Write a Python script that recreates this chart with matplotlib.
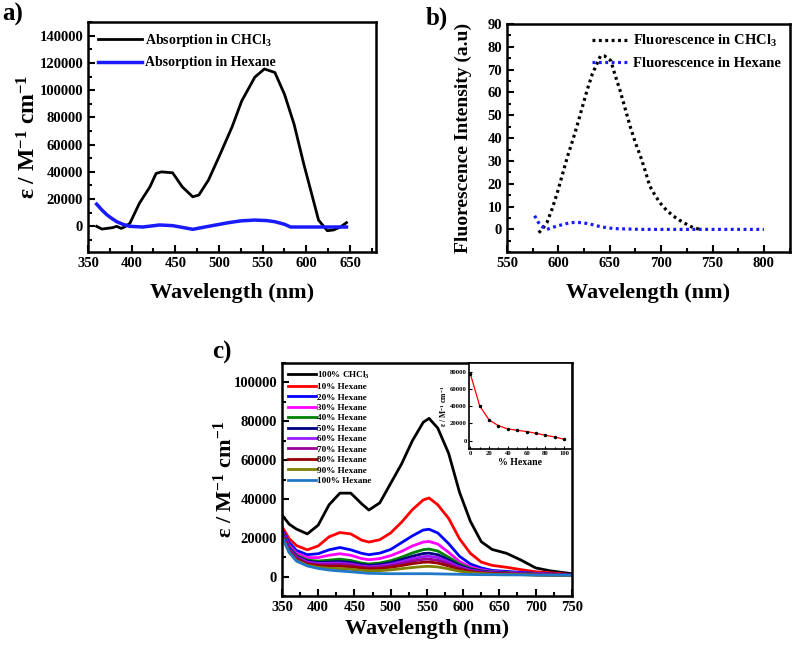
import numpy as np
import matplotlib
matplotlib.use('Agg')
import matplotlib.pyplot as plt
from matplotlib.ticker import MultipleLocator

plt.rcParams['font.family'] = ['Liberation Serif', 'DejaVu Serif']
plt.rcParams['font.weight'] = 'bold'
plt.rcParams['axes.labelweight'] = 'bold'
plt.rcParams['mathtext.fontset'] = 'custom'
plt.rcParams['mathtext.rm'] = 'Liberation Serif:bold'
plt.rcParams['mathtext.bf'] = 'Liberation Serif:bold'
plt.rcParams['mathtext.it'] = 'Liberation Serif:bold'
plt.rcParams['mathtext.default'] = 'bf'

eps_label = r'ε / M$^{-1}$ cm$^{-1}$'

# ---- panel a: absorption ----
wl_a_chcl3 = [360, 366, 372, 378, 383, 388, 392, 398, 409, 421, 428, 434, 447, 458, 470, 477,
              488, 500, 515, 526, 541, 552, 564, 575, 586, 597, 607, 614, 624, 631, 639, 646]
abs_chcl3 = [0, -2000, -1500, -1000, 0, -1500, -500, 2200, 17000, 29000, 38800, 40000, 39300,
             29000, 21700, 23000, 34000, 51000, 73000, 92000, 109500, 115600, 113000, 97000,
             75000, 46000, 21700, 4600, -3200, -2700, -500, 2700]
wl_a_hex = [360, 366, 372, 378, 383, 390, 398, 413, 432, 447, 460, 470, 488, 511, 525, 541,
            555, 564, 575, 582, 600, 620, 646]
abs_hex = [16300, 12000, 8300, 5500, 3400, 1500, 0, -500, 1000, 500, -1000, -2200, 0, 2700,
           4000, 4600, 4200, 3400, 1500, -500, -500, -500, -500]

# ---- panel b: fluorescence ----
wl_b_chcl3 = [581, 585, 589, 594, 599, 604, 609, 614, 618, 623, 628, 633, 638, 641, 645, 651,
              655, 660, 665, 670, 675, 680, 685, 689, 694, 699, 705, 712, 718, 725, 731, 738]
fl_chcl3 = [-1.5, 0.5, 3, 9, 16, 24, 32, 39, 45, 53, 61, 68, 73, 76, 76, 74, 68, 61, 53,
            45, 38, 32, 25, 19, 15, 11.6, 8.5, 5.8, 4, 2.2, 0.8, 0]
wl_b_hex = [577, 580, 583, 589, 594, 599, 606, 612, 618, 623, 632, 641, 649, 657, 680, 720,
            760, 800]
fl_hex = [6, 3.5, 1.5, 0, 0.8, 1.5, 2.3, 3, 3, 3, 2.2, 1.2, 0.6, 0.3, 0, 0, 0, 0]

# ---- panel c: solvent series ----
wl_c = [350, 360, 370, 385, 400, 415, 430, 445, 460, 470, 485, 500, 515, 530, 545, 553, 565,
        580, 595, 610, 625, 640, 660, 680, 700, 720, 750]
series_labels = [r'100% CHCl$_3$', '10% Hexane', '20% Hexane', '30% Hexane', '40% Hexane',
                 '50% Hexane', '60% Hexane', '70% Hexane', '80% Hexane', '90% Hexane',
                 '100% Hexane']
series_colors = ['black', '#ff0000', '#0000ff', '#ff00ff', '#008000', '#000080', '#9a1aff',
                 '#990099', '#990000', '#808000', '#1f78c8']
series_values = [
    [31800, 27000, 24500, 22000, 26500, 37000, 43000, 43000, 37500, 34300, 38000, 48000, 58000,
     70000, 79500, 81500, 76500, 63500, 43500, 28500, 18000, 14000, 12000, 8500, 4500, 3000, 1500],
    [25800, 19500, 16000, 13800, 15800, 20500, 22700, 22000, 18800, 17800, 19000, 22500, 28000,
     34500, 39500, 40500, 37000, 30000, 19500, 12000, 7500, 5800, 4800, 3600, 2500, 2000, 1000],
    [24100, 17500, 13500, 11300, 11800, 13800, 15000, 13800, 12000, 11300, 12100, 14000, 17500,
     21000, 24000, 24400, 22500, 17000, 10500, 6500, 4500, 3200, 2700, 2200, 1700, 1400, 1000],
    [23500, 16000, 12000, 9800, 9800, 11000, 11800, 11000, 9300, 8700, 9300, 10800, 13000,
     15800, 17800, 18100, 16800, 12500, 7800, 5000, 3500, 2700, 2200, 1800, 1500, 1200, 900],
    [23000, 15000, 11000, 8500, 8000, 8500, 9000, 8300, 7000, 6500, 7000, 8200, 10000,
     12200, 13900, 14200, 13200, 10000, 6500, 4200, 3000, 2400, 2000, 1600, 1300, 1100, 900],
    [22500, 14500, 10500, 8000, 7300, 7500, 7800, 7300, 6200, 5800, 6200, 7200, 8800,
     10500, 11900, 12100, 11300, 8700, 5700, 3800, 2800, 2200, 1800, 1500, 1200, 1000, 800],
    [22000, 14000, 10000, 7500, 6800, 6900, 7000, 6500, 5500, 5100, 5500, 6400, 7700,
     9200, 10300, 10500, 9800, 7600, 5000, 3400, 2500, 2000, 1700, 1400, 1100, 900, 800],
    [21500, 13500, 9500, 7000, 6200, 6200, 6300, 5900, 5000, 4600, 4900, 5600, 6700,
     8000, 8900, 9000, 8400, 6600, 4400, 3000, 2200, 1800, 1500, 1300, 1000, 900, 700],
    [21000, 13000, 9000, 6500, 5600, 5400, 5400, 5100, 4400, 4000, 4200, 4800, 5700,
     6700, 7400, 7500, 7000, 5500, 3700, 2600, 1900, 1600, 1400, 1200, 900, 800, 700],
    [20500, 12500, 8300, 5800, 4800, 4300, 4100, 3800, 3200, 3000, 3100, 3500, 4100,
     4700, 5200, 5300, 5000, 4000, 2800, 2000, 1600, 1300, 1100, 1000, 800, 700, 600],
    [20700, 12500, 8000, 5500, 4200, 3400, 2900, 2500, 2000, 1700, 1600, 1500, 1500,
     1500, 1500, 1500, 1400, 1300, 1200, 1100, 1000, 1000, 900, 900, 800, 800, 700],
]
hexane_pct = [0, 10, 20, 30, 40, 50, 60, 70, 80, 90, 100]
inset_eps = [78000, 40500, 24000, 17300, 13500, 12000, 10500, 8500, 6100, 4200, 1500]


def style_axes(ax, xmajor, xminor, ymajor, yminor, size=10.5):
    for s in ax.spines.values():
        s.set_linewidth(1.8)
    ax.xaxis.set_major_locator(MultipleLocator(xmajor))
    ax.xaxis.set_minor_locator(MultipleLocator(xminor))
    ax.yaxis.set_major_locator(MultipleLocator(ymajor))
    ax.yaxis.set_minor_locator(MultipleLocator(yminor))
    ax.tick_params(which='both', direction='in', width=1.5, labelsize=size)
    ax.tick_params(which='major', length=5)
    ax.tick_params(which='minor', length=3)


fig = plt.figure(figsize=(7.92, 6.5), dpi=100)

# panel a
ax1 = fig.add_axes([0.111, 0.612, 0.364, 0.354])
ax1.plot(wl_a_chcl3, abs_chcl3, color='black', lw=2, label=r'Absorption in CHCl$_3$')
ax1.plot(wl_a_hex, abs_hex, color='#1a1aff', lw=2.5, label='Absorption in Hexane')
ax1.set_xlim(350, 680)
ax1.set_ylim(-19000, 150000)
style_axes(ax1, 50, 25, 20000, 10000)
ax1.set_xlabel('Wavelength (nm)', fontsize=16, fontweight='bold', labelpad=9)
ax1.set_ylabel(eps_label, fontsize=17, fontweight='bold')
ax1.yaxis.set_label_coords(-0.165, 0.5)
ax1.legend(loc='upper left', frameon=False, handlelength=3.2,
           handletextpad=0.2, borderaxespad=0.3, labelspacing=0.55,
           prop={'weight': 'bold', 'size': 10})
fig.text(0.003, 0.995, 'a)', fontsize=18, fontweight='bold', va='top', ha='left')

# panel b
ax2 = fig.add_axes([0.640, 0.612, 0.357, 0.351])
ax2.plot(wl_b_chcl3, fl_chcl3, color='black', lw=2.3, ls=(0, (0.9, 1.1)),
         label=r'Fluorescence in CHCl$_3$')
ax2.plot(wl_b_hex, fl_hex, color='#1a1aff', lw=2.3, ls=(0, (0.9, 1.1)),
         label='Fluorescence in Hexane')
ax2.set_xlim(550, 825)
ax2.set_ylim(-10, 90)
style_axes(ax2, 50, 25, 10, 5)
ax2.set_yticks(range(0, 91, 10))
ax2.set_xlabel('Wavelength (nm)', fontsize=16, fontweight='bold', labelpad=9)
ax2.set_ylabel('Fluorescence Intensity (a.u)', fontsize=14, fontweight='bold')
ax2.yaxis.set_label_coords(-0.124, 0.5)
ax2.legend(loc='upper right', frameon=False, handlelength=2.6,
           handletextpad=0.2, borderaxespad=0.2, labelspacing=0.55,
           prop={'weight': 'bold', 'size': 10.5})
fig.text(0.538, 0.99, 'b)', fontsize=18, fontweight='bold', va='top', ha='left')

# panel c
ax3 = fig.add_axes([0.356, 0.083, 0.366, 0.3585])
for lab, col, vals in zip(series_labels, series_colors, series_values):
    ax3.plot(wl_c, vals, color=col, lw=2, label=lab)
ax3.set_xlim(350, 750)
ax3.set_ylim(-10000, 110000)
style_axes(ax3, 50, 25, 20000, 10000)
ax3.set_xlabel('Wavelength (nm)', fontsize=16, fontweight='bold', labelpad=4)
ax3.set_ylabel(eps_label, fontsize=16, fontweight='bold')
ax3.yaxis.set_label_coords(-0.155, 0.5)
ax3.legend(loc='upper left', frameon=False, handlelength=3.0,
           handletextpad=0.1, borderaxespad=0.3, labelspacing=0.22,
           prop={'weight': 'bold', 'size': 6.6})
fig.text(0.268, 0.475, 'c)', fontsize=18, fontweight='bold', va='top', ha='left')

# inset
ax4 = fig.add_axes([0.592, 0.309, 0.130, 0.132])
ax4.plot(hexane_pct, inset_eps, color='red', lw=0.9, marker='o', ms=1.5,
         mfc='black', mec='black')
ax4.set_xlim(-1.5, 108)
ax4.set_ylim(-10000, 90000)
for s in ax4.spines.values():
    s.set_linewidth(1.2)
ax4.xaxis.set_major_locator(MultipleLocator(20))
ax4.xaxis.set_minor_locator(MultipleLocator(10))
ax4.yaxis.set_major_locator(MultipleLocator(20000))
ax4.tick_params(which='both', direction='in', width=0.8, labelsize=4.8, pad=1.5)
ax4.tick_params(which='major', length=2.5)
ax4.tick_params(which='minor', length=1.5)
ax4.set_xlabel('% Hexane', fontsize=7, fontweight='bold', labelpad=1)
ax4.set_ylabel(eps_label, fontsize=5.5, fontweight='bold', labelpad=1)

fig.savefig('out.png', dpi=100)
